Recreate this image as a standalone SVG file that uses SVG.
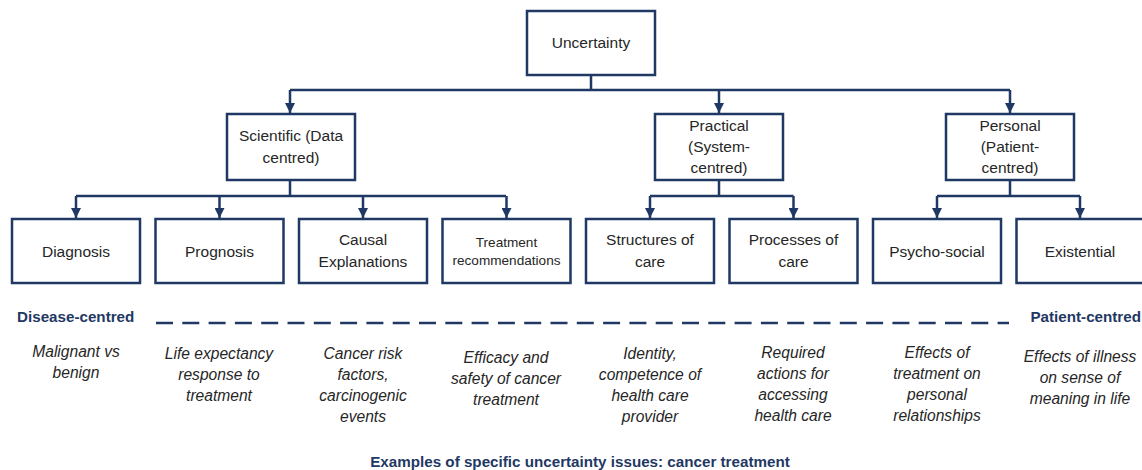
<svg xmlns="http://www.w3.org/2000/svg" width="1142" height="470" viewBox="0 0 1142 470">
  <style>
    .box { fill: #ffffff; stroke: #1f3864; stroke-width: 2.5; }
    .wire { fill: none; stroke: #1f3864; stroke-width: 2.5; }
    .dash { fill: none; stroke: #1f3864; stroke-width: 2.5; stroke-dasharray: 17 9.3; }
    .t { font-family: "Liberation Sans", Arial, sans-serif; font-size: 15.5px; fill: #262626; text-anchor: middle; }
    .ts { font-size: 13.6px; }
    .ex { font-family: "Liberation Sans", Arial, sans-serif; font-size: 15.6px; font-style: italic; fill: #262626; text-anchor: middle; }
    .lab { font-family: "Liberation Sans", Arial, sans-serif; font-size: 15.2px; font-weight: bold; fill: #1f3864; }
  </style>
  <defs>
    <marker id="arr" viewBox="0 0 10 10" refX="10" refY="5" markerWidth="10" markerHeight="10" markerUnits="userSpaceOnUse" orient="auto">
      <path d="M0,0 L10,5 L0,10 Z" fill="#1f3864"/>
    </marker>
  </defs>

  <!-- connectors -->
  <g id="connectors">
    <path class="wire" d="M591,75 V90 M290,90 H1010"/>
    <path class="wire" d="M290,90 V113" marker-end="url(#arr)"/>
    <path class="wire" d="M719,90 V113" marker-end="url(#arr)"/>
    <path class="wire" d="M1010,90 V113" marker-end="url(#arr)"/>

    <path class="wire" d="M290,180 V196 M76,196 H506"/>
    <path class="wire" d="M76,196 V218" marker-end="url(#arr)"/>
    <path class="wire" d="M219.5,196 V218" marker-end="url(#arr)"/>
    <path class="wire" d="M363,196 V218" marker-end="url(#arr)"/>
    <path class="wire" d="M506.5,196 V218" marker-end="url(#arr)"/>

    <path class="wire" d="M719,180 V196 M650,196 H793.5"/>
    <path class="wire" d="M650,196 V218" marker-end="url(#arr)"/>
    <path class="wire" d="M793.5,196 V218" marker-end="url(#arr)"/>

    <path class="wire" d="M1010,180 V196 M937,196 H1080"/>
    <path class="wire" d="M937,196 V218" marker-end="url(#arr)"/>
    <path class="wire" d="M1080,196 V218" marker-end="url(#arr)"/>

    <path class="dash" d="M156,323 H1009"/>
  </g>

  <!-- root -->
  <g id="uncertainty">
    <rect class="box" x="527" y="11" width="128" height="64"/>
    <text class="t" x="591" y="48">Uncertainty</text>
  </g>

  <!-- second level -->
  <g id="scientific">
    <rect class="box" x="227" y="114" width="128" height="66"/>
    <text class="t" x="291" y="141">Scientific (Data</text>
    <text class="t" x="291" y="163">centred)</text>
  </g>
  <g id="practical">
    <rect class="box" x="655" y="114" width="128" height="66"/>
    <text class="t" x="719" y="131">Practical</text>
    <text class="t" x="719" y="152">(System-</text>
    <text class="t" x="719" y="173">centred)</text>
  </g>
  <g id="personal">
    <rect class="box" x="946" y="114" width="128" height="66"/>
    <text class="t" x="1010" y="131">Personal</text>
    <text class="t" x="1010" y="152">(Patient-</text>
    <text class="t" x="1010" y="173">centred)</text>
  </g>

  <!-- third level -->
  <g id="diagnosis">
    <rect class="box" x="12" y="219" width="128" height="64"/>
    <text class="t" x="76" y="257">Diagnosis</text>
  </g>
  <g id="prognosis">
    <rect class="box" x="155.5" y="219" width="128" height="64"/>
    <text class="t" x="219.5" y="257">Prognosis</text>
  </g>
  <g id="causal">
    <rect class="box" x="299" y="219" width="128" height="64"/>
    <text class="t" x="363" y="245">Causal</text>
    <text class="t" x="363" y="267">Explanations</text>
  </g>
  <g id="treatment">
    <rect class="box" x="442.5" y="219" width="128" height="64"/>
    <text class="t ts" x="506.5" y="247">Treatment</text>
    <text class="t ts" x="506.5" y="265">recommendations</text>
  </g>
  <g id="structures">
    <rect class="box" x="586" y="219" width="128" height="64"/>
    <text class="t" x="650" y="245">Structures of</text>
    <text class="t" x="650" y="267">care</text>
  </g>
  <g id="processes">
    <rect class="box" x="729.5" y="219" width="128" height="64"/>
    <text class="t" x="793.5" y="245">Processes of</text>
    <text class="t" x="793.5" y="267">care</text>
  </g>
  <g id="psychosocial">
    <rect class="box" x="873" y="219" width="128" height="64"/>
    <text class="t" x="937" y="257">Psycho-social</text>
  </g>
  <g id="existential">
    <rect class="box" x="1016.5" y="219" width="128" height="64"/>
    <text class="t" x="1080" y="257">Existential</text>
  </g>

  <!-- axis labels -->
  <text class="lab" x="17" y="322">Disease-centred</text>
  <text class="lab" x="1141" y="322" text-anchor="end">Patient-centred</text>

  <!-- examples -->
  <g id="examples">
    <text class="ex" x="76" y="357">Malignant vs</text>
    <text class="ex" x="76" y="378">benign</text>

    <text class="ex" x="219" y="359">Life expectancy</text>
    <text class="ex" x="219" y="380">response to</text>
    <text class="ex" x="219" y="401">treatment</text>

    <text class="ex" x="363" y="359">Cancer risk</text>
    <text class="ex" x="363" y="380">factors,</text>
    <text class="ex" x="363" y="401">carcinogenic</text>
    <text class="ex" x="363" y="422">events</text>

    <text class="ex" x="506" y="363">Efficacy and</text>
    <text class="ex" x="506" y="384">safety of cancer</text>
    <text class="ex" x="506" y="405">treatment</text>

    <text class="ex" x="650" y="359">Identity,</text>
    <text class="ex" x="650" y="380">competence of</text>
    <text class="ex" x="650" y="401">health care</text>
    <text class="ex" x="650" y="422">provider</text>

    <text class="ex" x="793" y="358">Required</text>
    <text class="ex" x="793" y="379">actions for</text>
    <text class="ex" x="793" y="400">accessing</text>
    <text class="ex" x="793" y="421">health care</text>

    <text class="ex" x="937" y="358">Effects of</text>
    <text class="ex" x="937" y="379">treatment on</text>
    <text class="ex" x="937" y="400">personal</text>
    <text class="ex" x="937" y="421">relationships</text>

    <text class="ex" x="1080" y="362">Effects of illness</text>
    <text class="ex" x="1080" y="383">on sense of</text>
    <text class="ex" x="1080" y="404">meaning in life</text>
  </g>

  <text class="lab" x="580" y="467" text-anchor="middle">Examples of specific uncertainty issues: cancer treatment</text>
</svg>
